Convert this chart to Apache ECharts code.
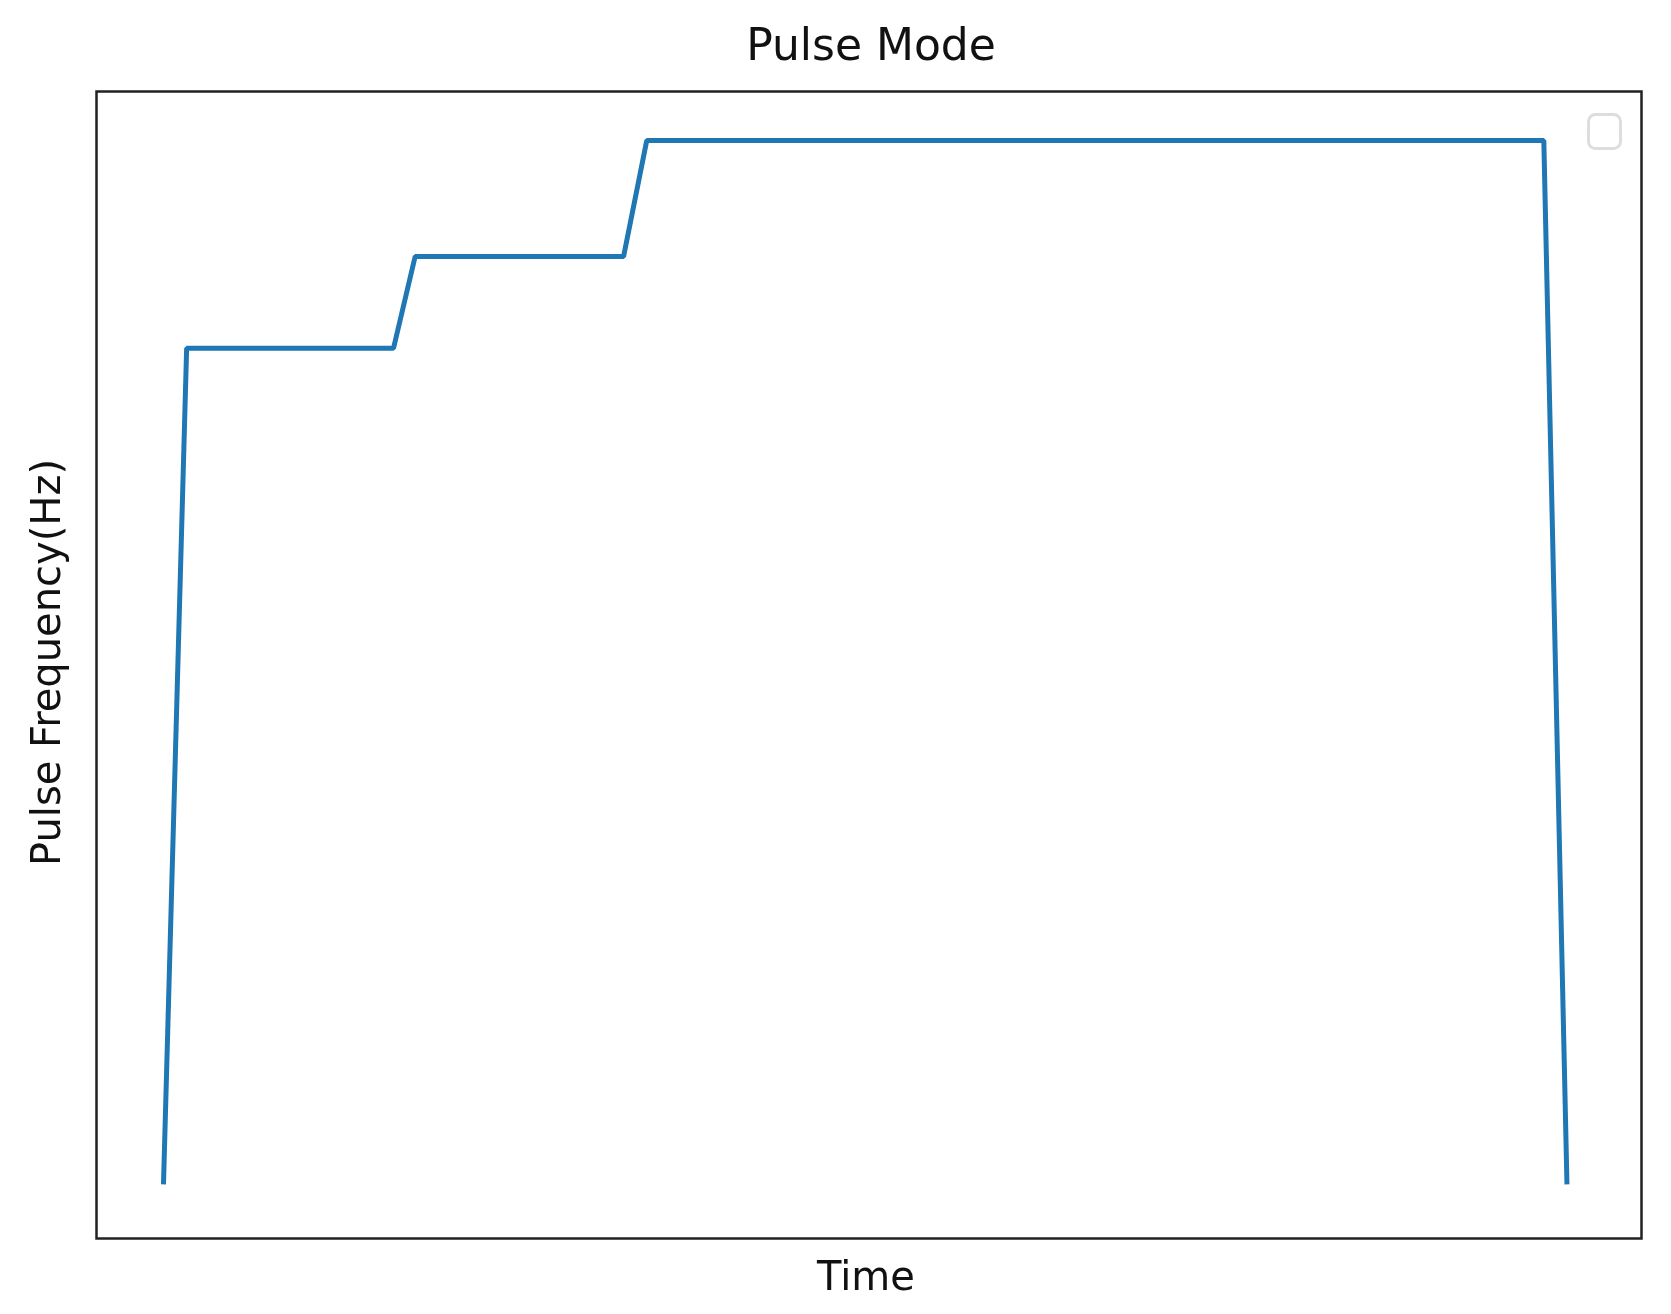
<!DOCTYPE html>
<html>
<head>
<meta charset="utf-8">
<script src="https://cdn.jsdelivr.net/npm/echarts@6/dist/echarts.min.js"></script>
<style>html,body{margin:0;padding:0;background:#fff}#main{width:1671px;height:1314px}</style>
</head>
<body>
<div id="main"></div>
<script>
// time (0-100 of axis span) and frequency (0-100 of axis span)
var timeVals = [4.5, 6.0, 19.4, 20.8, 34.3, 35.8, 93.9, 95.4];
var freqVals = [4.5, 77.4, 77.4, 85.4, 85.4, 95.5, 95.5, 4.5];

var points = timeVals.map(function (t, i) { return [t, freqVals[i]]; });

var myChart = echarts.init(document.getElementById('main'));
var option = {
    animation: false,
    title: {
        text: 'Pulse Mode',
        left: 866,
        textAlign: 'center',
        top: 22,
        textStyle: {fontFamily: 'DejaVu Sans', fontWeight: 'normal', fontSize: 44, color: '#111'}
    },
    grid: {left: 94, right: 33, top: 89, bottom: 78},
    xAxis: {
        type: 'value', min: 0, max: 100,
        name: 'Time', nameLocation: 'middle', nameGap: 24,
        nameTextStyle: {fontFamily: 'DejaVu Sans', fontSize: 40, color: '#111'},
        axisLine: {show: false}, axisTick: {show: false}, axisLabel: {show: false}, splitLine: {show: false}
    },
    yAxis: {
        type: 'value', min: 0, max: 100,
        name: 'Pulse Frequency(Hz)', nameLocation: 'middle', nameGap: 24,
        nameTextStyle: {fontFamily: 'DejaVu Sans', fontSize: 40, color: '#111'},
        axisLine: {show: false}, axisTick: {show: false}, axisLabel: {show: false}, splitLine: {show: false}
    },
    graphic: [
        {type: 'rect', left: 94, top: 89, shape: {width: 1545, height: 1147},
         style: {fill: 'none', stroke: '#222', lineWidth: 2.5}, z: 10},
        {type: 'rect', left: 1587, top: 113, shape: {width: 32, height: 34, r: 7},
         style: {fill: '#fff', stroke: '#ddd', lineWidth: 3}, z: 10}
    ],
    series: [{
        type: 'line',
        data: points,
        symbol: 'none',
        lineStyle: {color: '#1f77b4', width: 5}
    }]
};
myChart.setOption(option);
</script>
</body>
</html>
